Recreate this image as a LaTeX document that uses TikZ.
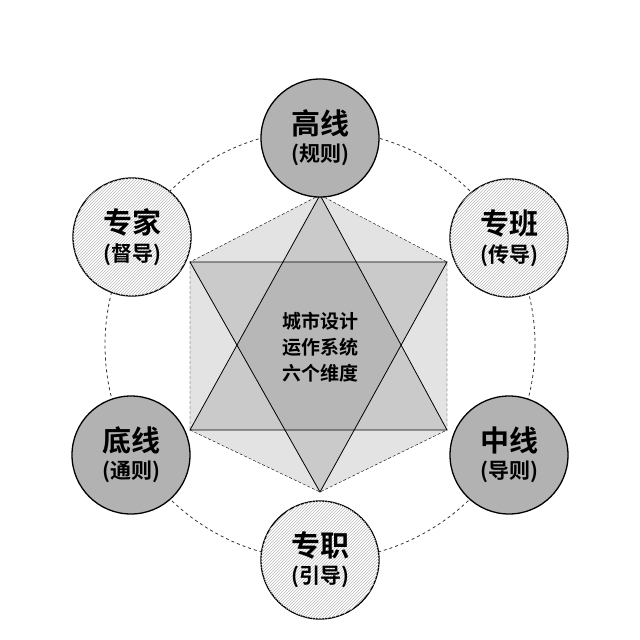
\documentclass[tikz,border=0pt]{standalone}
\usepackage{fontspec}
\setmainfont{Noto Sans CJK SC}[BoldFont={Noto Sans CJK SC Bold}]
\usetikzlibrary{patterns}
\begin{document}
\begin{tikzpicture}[x=1pt,y=-1pt]
    \useasboundingbox (0,0) rectangle (640,640);
    \tikzset{
        dim/.style={circle, draw, line width=1.3pt, minimum size=118pt, inner sep=0pt, align=center, font=\bfseries},
        solid dim/.style={dim, fill=gray!60},
        hatch dim/.style={dim, fill=white, postaction={pattern=north east lines, pattern color=gray!55}}
    }

    % outer ring
    \draw[dashed, gray!40!black, thick] (320,345) circle (215);

    % hexagon and star
    \coordinate (t) at (320,195);
    \coordinate (tr) at (447,262);
    \coordinate (br) at (447,430);
    \coordinate (b) at (320,492);
    \coordinate (bl) at (190,430);
    \coordinate (tl) at (190,262);
    \fill[gray!22] (t) -- (tr) -- (br) -- (b) -- (bl) -- (tl) -- cycle;
    \draw[densely dashed] (t) -- (tl) -- (bl);
    \draw[densely dashed] (t) -- (tr) -- (br);
    \draw[densely dashed] (bl) -- (b) -- (br);
    \fill[gray, fill opacity=0.25] (t) -- (br) -- (bl) -- cycle;
    \fill[gray, fill opacity=0.25] (tl) -- (tr) -- (b) -- cycle;
    \draw[thick] (t) -- (br) -- (bl) -- cycle;
    \draw[thick] (tl) -- (tr) -- (b) -- cycle;
    \node[align=center, font=\bfseries\fontsize{19}{26}\selectfont] (core) at (320,347) {城市设计\\运作系统\\六个维度};

    % six dimensions
    \node[solid dim] (high) at (320,138) {\fontsize{29}{38}\selectfont 高线\\[6pt]\fontsize{21}{26}\selectfont (规则)};
    \node[hatch dim] (shift) at (509,238) {\fontsize{29}{38}\selectfont 专班\\[6pt]\fontsize{21}{26}\selectfont (传导)};
    \node[solid dim] (mid) at (509,455) {\fontsize{29}{38}\selectfont 中线\\[6pt]\fontsize{21}{26}\selectfont (导则)};
    \node[hatch dim] (post) at (320,560) {\fontsize{29}{38}\selectfont 专职\\[6pt]\fontsize{21}{26}\selectfont (引导)};
    \node[solid dim] (low) at (131,455) {\fontsize{29}{38}\selectfont 底线\\[6pt]\fontsize{21}{26}\selectfont (通则)};
    \node[hatch dim] (expert) at (132,237) {\fontsize{29}{38}\selectfont 专家\\[6pt]\fontsize{21}{26}\selectfont (督导)};

\end{tikzpicture}
\end{document}
